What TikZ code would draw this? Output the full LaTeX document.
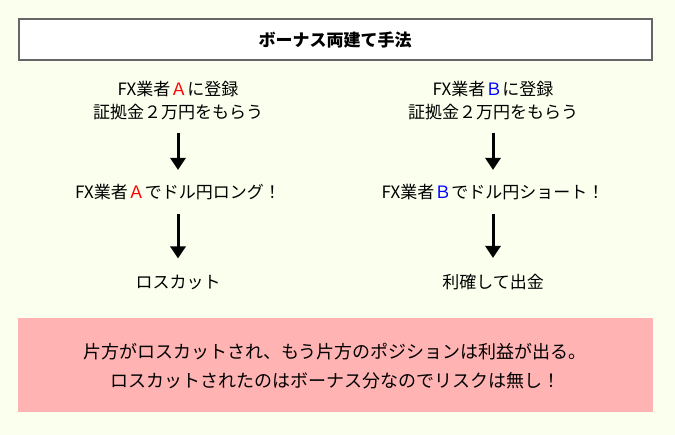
\documentclass[tikz,border=0pt]{standalone}
\usepackage{fontspec}
\setmainfont{Noto Sans CJK JP}
\usetikzlibrary{arrows.meta,positioning}
\definecolor{bgcol}{HTML}{FBFFEE}
\definecolor{pinkcol}{HTML}{FFB3B3}
\definecolor{framecol}{HTML}{666666}
\tikzset{
  txt/.style={font=\fontsize{17pt}{23pt}\selectfont, align=center, inner sep=0pt},
  arr/.style={-{Triangle[length=12pt,width=15pt]}, line width=3pt},
}
\begin{document}
\begin{tikzpicture}[x=1pt,y=-1pt]
    \fill[bgcol] (0,0) rectangle (675,435);
    \useasboundingbox (0,0) rectangle (675,435);

    \draw[framecol, line width=2pt, fill=white] (19,19) rectangle (652,60);
    \node[txt, font=\bfseries\fontsize{17pt}{23pt}\selectfont] (title) at (335,40) {ボーナス両建て手法};

    \node[txt] (regA) at (178,101) {FX業者{\color{red}Ａ}に登録\\証拠金２万円をもらう};
    \node[txt] (regB) at (493,101) {FX業者{\color{blue}Ｂ}に登録\\証拠金２万円をもらう};
    \node[txt] (longA)  at (178,192) {FX業者{\color{red}Ａ}でドル円ロング！};
    \node[txt] (shortB) at (493,192) {FX業者{\color{blue}Ｂ}でドル円ショート！};
    \node[txt] (lossA)  at (178,282) {ロスカット};
    \node[txt] (gainB)  at (493,282) {利確して出金};

    \draw[arr] ([yshift=-12pt]regA.south) -- ([yshift=14pt]longA.north);
    \draw[arr] ([yshift=-12pt]regB.south) -- ([yshift=14pt]shortB.north);
    \draw[arr] ([yshift=-14pt]longA.south) -- ([yshift=16pt]lossA.north);
    \draw[arr] ([yshift=-14pt]shortB.south) -- ([yshift=16pt]gainB.north);

    \fill[pinkcol] (18,318) rectangle (653,412);
    \node[txt, font=\fontsize{18pt}{29pt}\selectfont] (summary) at (335,366)
      {片方がロスカットされ、もう片方のポジションは利益が出る。\\ロスカットされたのはボーナス分なのでリスクは無し！};
\end{tikzpicture}
\end{document}
